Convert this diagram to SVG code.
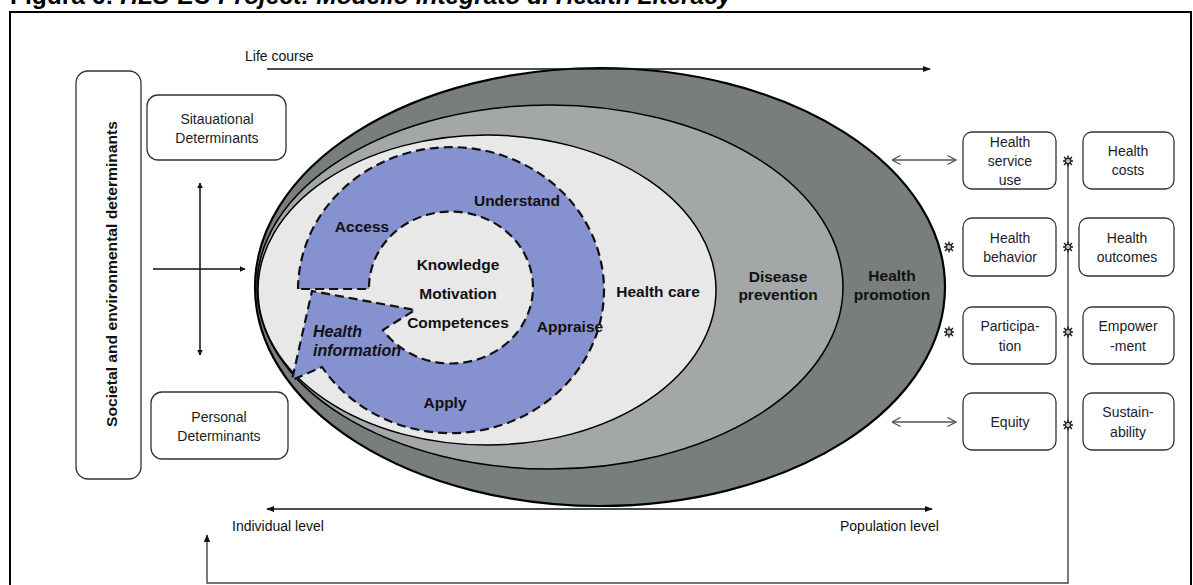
<svg xmlns="http://www.w3.org/2000/svg" width="1193" height="585" viewBox="0 0 1193 585">
<style>
.box{fill:#fff;stroke:#333;stroke-width:1.3}
.bt{font-family:"Liberation Sans",Arial,sans-serif;font-size:14px;fill:#1c1c28;text-anchor:middle}
.lbl{font-family:"Liberation Sans",Arial,sans-serif;font-size:15.5px;font-weight:bold;fill:#111;text-anchor:middle}
.plain{font-family:"Liberation Sans",Arial,sans-serif;font-size:14px;fill:#111}
.ln{stroke:#111;stroke-width:1.5;fill:none}
.gl{stroke:#555;stroke-width:1.3;fill:none}
</style>
<defs>
<marker id="af" viewBox="0 0 10 10" refX="9" refY="5" markerWidth="6" markerHeight="6" markerUnits="userSpaceOnUse" orient="auto-start-reverse"><path d="M0,0 L10,5 L0,10 Z" fill="#111"/></marker>
<marker id="af2" viewBox="0 0 10 10" refX="9" refY="5" markerWidth="8" markerHeight="8" markerUnits="userSpaceOnUse" orient="auto-start-reverse"><path d="M0,1 L10,5 L0,9 Z" fill="#111"/></marker>
<marker id="ao" viewBox="0 0 10 10" refX="9.5" refY="5" markerWidth="10" markerHeight="10" markerUnits="userSpaceOnUse" orient="auto-start-reverse"><path d="M1,0.5 L9.5,5 L1,9.5" fill="none" stroke="#555" stroke-width="1.3"/></marker>
<symbol id="ks" viewBox="-6 -6 12 12" overflow="visible"><path d="M0,-5.5 V5.5 M-5,0 H5 M-4,-4 L4,4 M-4,4 L4,-4" stroke="#222" stroke-width="1.5"/><circle r="2.8" fill="#bbb" stroke="#222" stroke-width="1.3"/></symbol>
</defs>

<text x="10" y="4" style="font-family:'Liberation Sans',Arial,sans-serif;font-size:24.5px;font-weight:bold;fill:#000">Figura 6: <tspan font-style="italic">HLS-EU Project: Modello integrato di Health Literacy</tspan></text>
<rect x="10" y="12" width="1181" height="610" fill="none" stroke="#000" stroke-width="2"/>

<g id="ellipses">
<ellipse id="health-promotion" cx="600" cy="287" rx="345" ry="219" fill="#787e7c" stroke="#000" stroke-width="2.2"/>
<ellipse id="disease-prevention" cx="550" cy="287" rx="293" ry="182" fill="#a4a7a8" stroke="#000" stroke-width="1.5"/>
<ellipse id="health-care" cx="487" cy="290" rx="229" ry="155" fill="#e8e8e8" stroke="#000" stroke-width="1.5"/>
<path id="hl-ring" d="M298,289 A153,143 0 1 1 322,367 L292,380 L312,291 L415,310 L383,330 A82,76 0 1 0 369,289 Z" fill="#8692cf" stroke="#111" stroke-width="2.2" stroke-dasharray="9,5"/>
</g>

<g id="ellipse-labels">
<text class="lbl" x="517" y="206">Understand</text>
<text class="lbl" x="362" y="232">Access</text>
<text class="lbl" x="458" y="270">Knowledge</text>
<text class="lbl" x="458" y="299">Motivation</text>
<text class="lbl" x="458" y="328">Competences</text>
<text class="lbl" x="570" y="332">Appraise</text>
<text class="lbl" x="445" y="408">Apply</text>
<text class="lbl" x="313" y="337" font-style="italic" style="text-anchor:start;font-size:16px">Health</text>
<text class="lbl" x="313" y="356" font-style="italic" style="text-anchor:start;font-size:16px">information</text>
<text class="lbl" x="658" y="297">Health care</text>
<text class="lbl" x="778" y="282">Disease</text>
<text class="lbl" x="778" y="300">prevention</text>
<text class="lbl" x="892" y="281">Health</text>
<text class="lbl" x="892" y="300">promotion</text>
</g>

<g id="societal">
<rect class="box" x="76" y="71" width="65" height="408" rx="12"/>
<text transform="translate(117,274) rotate(-90)" textLength="306" lengthAdjust="spacingAndGlyphs" style="font-family:'Liberation Sans',Arial,sans-serif;font-size:14.5px;font-weight:bold;fill:#111;text-anchor:middle">Societal and environmental determinants</text>
</g>
<g id="situational">
<rect class="box" x="147" y="95" width="139" height="65" rx="11"/>
<text class="bt" x="217" y="124">Sitauational</text>
<text class="bt" x="217" y="143">Determinants</text>
</g>
<g id="personal">
<rect class="box" x="151" y="392" width="137" height="67" rx="11"/>
<text class="bt" x="219" y="422">Personal</text>
<text class="bt" x="219" y="441">Determinants</text>
</g>

<g id="out-health-service-use"><rect class="box" x="963" y="132" width="93" height="57" rx="9"/>
<text class="bt" x="1010" y="147">Health</text><text class="bt" x="1010" y="166">service</text><text class="bt" x="1010" y="185">use</text></g>
<g id="out-health-behavior"><rect class="box" x="963" y="218" width="93" height="58" rx="9"/>
<text class="bt" x="1010" y="243">Health</text><text class="bt" x="1010" y="262">behavior</text></g>
<g id="out-participation"><rect class="box" x="963" y="307" width="93" height="57" rx="9"/>
<text class="bt" x="1010" y="331">Participa-</text><text class="bt" x="1010" y="351">tion</text></g>
<g id="out-equity"><rect class="box" x="963" y="393" width="93" height="57" rx="9"/>
<text class="bt" x="1010" y="427">Equity</text></g>
<g id="out-health-costs"><rect class="box" x="1083" y="132" width="91" height="57" rx="9"/>
<text class="bt" x="1128" y="156">Health</text><text class="bt" x="1128" y="175">costs</text></g>
<g id="out-health-outcomes"><rect class="box" x="1079" y="218" width="95" height="58" rx="9"/>
<text class="bt" x="1127" y="243">Health</text><text class="bt" x="1127" y="262">outcomes</text></g>
<g id="out-empowerment"><rect class="box" x="1083" y="307" width="91" height="57" rx="9"/>
<text class="bt" x="1128" y="331">Empower</text><text class="bt" x="1128" y="351">-ment</text></g>
<g id="out-sustainability"><rect class="box" x="1083" y="393" width="91" height="57" rx="9"/>
<text class="bt" x="1128" y="417">Sustain-</text><text class="bt" x="1128" y="437">ability</text></g>

<g id="axis-labels">
<text class="plain" x="245" y="61">Life course</text>
<text class="plain" x="232" y="531">Individual level</text>
<text class="plain" x="840" y="531">Population level</text>
</g>

<g id="connectors">
<line class="ln" x1="267" y1="69" x2="930" y2="69" marker-end="url(#af2)"/>
<line class="ln" x1="267" y1="509" x2="932" y2="509" marker-start="url(#af2)" marker-end="url(#af2)"/>
<line class="ln" x1="200" y1="183" x2="200" y2="355" stroke-width="1.2" marker-start="url(#af)" marker-end="url(#af)"/>
<line class="ln" x1="153" y1="269" x2="245" y2="269" stroke-width="1.2" marker-end="url(#af)"/>
<line class="gl" x1="892" y1="160" x2="956" y2="160" marker-start="url(#ao)" marker-end="url(#ao)"/>
<line class="gl" x1="892" y1="422" x2="956" y2="422" marker-start="url(#ao)" marker-end="url(#ao)"/>
<path d="M1068,158 V583 H207 V535" fill="none" stroke="#444" stroke-width="1.4" marker-end="url(#af2)"/>
<use href="#ks" x="1062" y="155" width="12" height="12"/>
<use href="#ks" x="1062" y="241" width="12" height="12"/>
<use href="#ks" x="1062" y="326" width="12" height="12"/>
<use href="#ks" x="1062" y="419" width="12" height="12"/>
<use href="#ks" x="943" y="241" width="12" height="12"/>
<use href="#ks" x="943" y="326" width="12" height="12"/>
</g>
</svg>
